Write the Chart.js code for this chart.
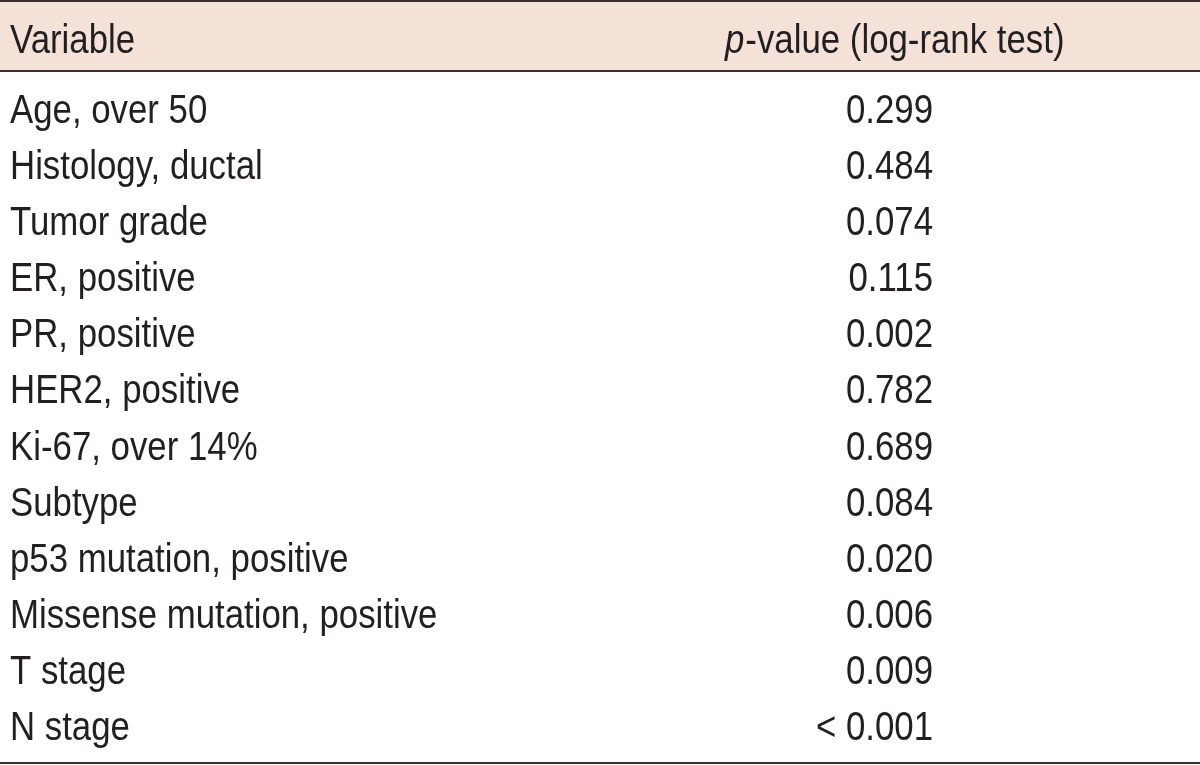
<!DOCTYPE html>
<html>
<head>
<meta charset="utf-8">
<script src="https://cdn.jsdelivr.net/npm/chart.js@4.4.1/dist/chart.umd.min.js"></script>
<style>
  html, body { margin: 0; padding: 0; background: #fff; }
  #wrap { width: 1200px; height: 765px; position: relative; }
</style>
</head>
<body>
<div id="wrap"><canvas id="pTable"></canvas></div>
<script>
// table content
const headers = ['Variable', 'p-value (log-rank test)'];
const variables = [
  'Age, over 50',
  'Histology, ductal',
  'Tumor grade',
  'ER, positive',
  'PR, positive',
  'HER2, positive',
  'Ki-67, over 14%',
  'Subtype',
  'p53 mutation, positive',
  'Missense mutation, positive',
  'T stage',
  'N stage'
];
const pValues = ['0.299', '0.484', '0.074', '0.115', '0.002', '0.782', '0.689', '0.084', '0.020', '0.006', '0.009', '< 0.001'];

const FONT = 'Liberation Sans, Arial, sans-serif';
const TEXT = '#231f20';
const RULE = '#3a2e2c';
const HEAD_BG = '#f4e1d7';
const SQUEEZE = 0.87; // the source typeface is narrower than Arial

function drawText(ctx, str, x, y, align, italic) {
  ctx.save();
  ctx.font = (italic ? 'italic ' : '') + '40px ' + FONT;
  const w = ctx.measureText(str).width * SQUEEZE;
  const left = align === 'right' ? x - w : x;
  ctx.translate(left, y);
  ctx.scale(SQUEEZE, 1);
  ctx.textAlign = 'left';
  ctx.textBaseline = 'alphabetic';
  ctx.fillStyle = TEXT;
  ctx.fillText(str, 0, 0);
  ctx.restore();
  return w;
}

const tablePlugin = {
  id: 'tablePlugin',
  afterDraw(chart) {
    const ctx = chart.ctx;
    const yScale = chart.scales.y;
    const W = chart.width;
    const colLeft = 10;
    const colRight = 933;

    // header band
    ctx.save();
    ctx.fillStyle = HEAD_BG;
    ctx.fillRect(0, 1, W, 70);
    ctx.fillStyle = RULE;
    ctx.fillRect(0, 0, W, 2);
    ctx.fillRect(0, 70, W, 2);
    ctx.fillRect(0, 762, W, 2);
    ctx.restore();

    drawText(ctx, headers[0], colLeft, 53, 'left');
    const pw = drawText(ctx, 'p', 725, 53, 'left', true);
    drawText(ctx, headers[1].slice(1), 725 + pw + 1, 53, 'left');

    chart.data.labels.forEach((label, i) => {
      const y = yScale.getPixelForValue(i) + 14.5;
      drawText(ctx, label, colLeft, y, 'left');
      drawText(ctx, pValues[i], colRight, y, 'right');
    });
  }
};

new Chart(document.getElementById('pTable'), {
  type: 'scatter',
  data: { labels: variables, datasets: [] },
  options: {
    responsive: true,
    maintainAspectRatio: false,
    animation: false,
    layout: { padding: { top: 80, bottom: 11, left: 0, right: 0 } },
    plugins: { legend: { display: false }, tooltip: { enabled: false } },
    scales: {
      x: { type: 'linear', display: false },
      y: { type: 'category', display: false, offset: true }
    }
  },
  plugins: [tablePlugin]
});
</script>
</body>
</html>
